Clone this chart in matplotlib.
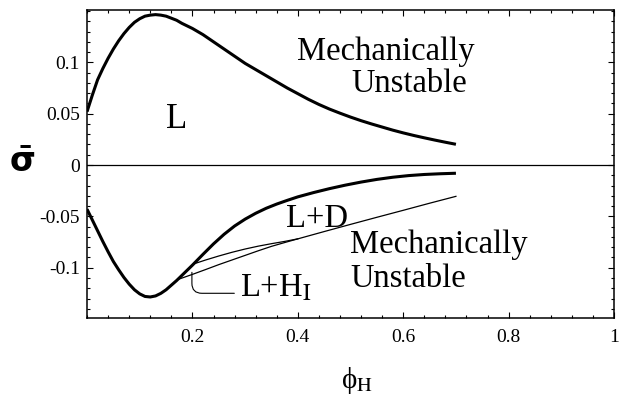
import matplotlib
matplotlib.use("Agg")
import matplotlib.pyplot as plt
from matplotlib.ticker import MultipleLocator

plt.rcParams['font.family'] = ['Liberation Serif', 'DejaVu Serif']
plt.rcParams['mathtext.fontset'] = 'stix'
plt.rcParams['axes.unicode_minus'] = False

# --- data ---
upper_phi = [0.0, 0.01, 0.02, 0.03, 0.04, 0.05, 0.06, 0.07, 0.08, 0.09, 0.10, 0.11,
             0.12, 0.13, 0.14, 0.15, 0.16, 0.17, 0.18, 0.19, 0.20, 0.22, 0.24, 0.26,
             0.28, 0.30, 0.32, 0.34, 0.36, 0.38, 0.40, 0.42, 0.44, 0.46, 0.48, 0.50,
             0.52, 0.54, 0.56, 0.58, 0.60, 0.62, 0.64, 0.66, 0.68, 0.70]
upper_sigma = [0.052, 0.068, 0.083, 0.094, 0.104, 0.113, 0.121, 0.128, 0.134, 0.139,
               0.1425, 0.145, 0.146, 0.1465, 0.146, 0.145, 0.143, 0.141, 0.138, 0.1355,
               0.133, 0.127, 0.120, 0.113, 0.106, 0.099, 0.093, 0.087, 0.081, 0.075,
               0.0695, 0.0640, 0.0590, 0.0545, 0.0505, 0.0467, 0.0432, 0.0400, 0.0370,
               0.0340, 0.0313, 0.0288, 0.0265, 0.0243, 0.0222, 0.0202]

lower_phi = [0.0, 0.01, 0.02, 0.03, 0.04, 0.05, 0.06, 0.07, 0.08, 0.09, 0.10, 0.11,
             0.12, 0.13, 0.14, 0.15, 0.16, 0.17, 0.18, 0.19, 0.20, 0.22, 0.24, 0.26,
             0.28, 0.30, 0.32, 0.34, 0.36, 0.38, 0.40, 0.43, 0.46, 0.49, 0.52, 0.55,
             0.58, 0.61, 0.64, 0.67, 0.70]
lower_sigma = [-0.043, -0.0535, -0.064, -0.0745, -0.0845, -0.094, -0.102, -0.1095,
               -0.116, -0.1215, -0.1255, -0.128, -0.1285, -0.1275, -0.125, -0.1215,
               -0.117, -0.1125, -0.1075, -0.1025, -0.0975, -0.087, -0.0768, -0.0675,
               -0.0594, -0.0527, -0.0470, -0.0421, -0.0380, -0.0344, -0.0310, -0.0268,
               -0.0230, -0.0196, -0.0166, -0.0140, -0.0119, -0.0103, -0.0092, -0.0085,
               -0.0080]

thin_low_phi = [0.175, 0.20, 0.225, 0.25, 0.275, 0.30, 0.325, 0.35, 0.375, 0.40,
                0.45, 0.50, 0.55, 0.60, 0.65, 0.70]
thin_low_sigma = [-0.111, -0.1065, -0.1018, -0.097, -0.0925, -0.088, -0.0835,
                  -0.0792, -0.0755, -0.0719, -0.0648, -0.0578, -0.0509, -0.0441,
                  -0.0372, -0.0305]

thin_up_phi = [0.203, 0.225, 0.25, 0.275, 0.30, 0.325, 0.35, 0.375, 0.40]
thin_up_sigma = [-0.0962, -0.0925, -0.0886, -0.0850, -0.0818, -0.0790, -0.0766,
                 -0.0744, -0.0719]

xticks = [0.2, 0.4, 0.6, 0.8, 1.0]
xtick_labels = ['0.2', '0.4', '0.6', '0.8', '1']
yticks = [-0.1, -0.05, 0.0, 0.05, 0.1]
ytick_labels = ['-0.1', '-0.05', '0', '0.05', '0.1']

# --- figure ---
fig = plt.figure(figsize=(6.23, 3.95), dpi=100)
ax = fig.add_axes([0.1397, 0.1949, 0.8459, 0.7798])

ax.axhline(0, color='black', lw=0.9)
for xs, ys in [(upper_phi, upper_sigma), (lower_phi, lower_sigma)]:
    ax.plot(xs, ys, color='black', lw=2.2, solid_capstyle='butt',
            solid_joinstyle='round')
for xs, ys in [(thin_low_phi, thin_low_sigma), (thin_up_phi, thin_up_sigma)]:
    ax.plot(xs, ys, color='black', lw=0.9, solid_joinstyle='round')

ax.set_xlim(0, 1)
ax.set_ylim(-0.149, 0.151)
ax.set_xticks(xticks, labels=xtick_labels)
ax.set_yticks(yticks, labels=ytick_labels)
ax.xaxis.set_minor_locator(MultipleLocator(0.04))
ax.yaxis.set_minor_locator(MultipleLocator(0.01))
ax.tick_params(which='both', direction='in', top=True, right=True,
               labelsize=14, width=0.8)
ax.tick_params(which='major', length=4)
ax.tick_params(which='minor', length=2)
ax.tick_params(axis='y', pad=5)
ax.tick_params(axis='x', pad=8)
for s in ax.spines.values():
    s.set_linewidth(1.1)

# region labels
fs = 23.5
ax.text(0.170, 0.036, 'L', fontsize=25, ha='center', va='baseline')
ax.text(0.566, 0.102, 'Mechanically', fontsize=fs, ha='center', va='baseline')
ax.text(0.612, 0.071, 'Unstable', fontsize=fs, ha='center', va='baseline')
ax.text(0.436, -0.060, 'L+D', fontsize=fs, ha='center', va='baseline')
ax.text(0.499, -0.086, 'Mechanically', fontsize=fs, ha='left', va='baseline')
ax.text(0.499, -0.119, 'Unstable', fontsize=fs, ha='left', va='baseline')
ax.annotate(r'L+H$_\mathrm{I}$', xy=(0.199, -0.1045), xytext=(0.290, -0.1285),
            fontsize=fs, ha='left', va='baseline',
            arrowprops=dict(arrowstyle='-', lw=0.8, color='black',
                            shrinkA=2, shrinkB=0,
                            connectionstyle='angle,angleA=0,angleB=90,rad=10',
                            relpos=(0.0, 0.35)))

# axis labels
fig.text(22 / 623, 1 - 162 / 395, r'$\mathbf{\bar{\sigma}}$', fontsize=24,
         ha='center', va='center', family='DejaVu Sans', math_fontfamily='dejavusans')
fig.text(357 / 623, 1 - 381 / 395, '\u03d5$_\\mathrm{H}$', fontsize=21,
         ha='center', va='center')

fig.savefig('out.png', dpi=100)
